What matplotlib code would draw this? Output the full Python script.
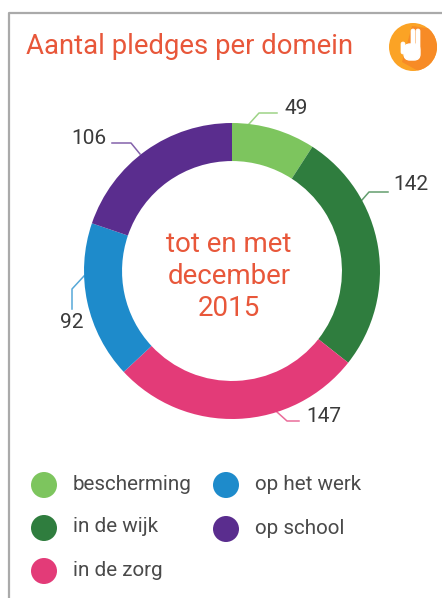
import matplotlib
matplotlib.use("Agg")
import matplotlib.pyplot as plt
from matplotlib.patches import Circle, Polygon, FancyBboxPatch

plt.rcParams['font.family'] = ['Roboto', 'DejaVu Sans']

categories = ['bescherming', 'in de wijk', 'in de zorg', 'op het werk', 'op school']
values = [49, 142, 147, 92, 106]
colors = ['#7dc55e', '#2f7d3e', '#e33b78', '#1e8bcb', '#5a2d8e']

W, H = 442, 598
cx, cy, r = 232, 271, 148

# label position and leader line for each slice, in pixels
label_pos = [(296, 109), (411, 185), (324, 416), (72, 322), (89, 139)]
leaders = [
    [(249, 124), (259, 113), (277, 113)],
    [(362, 200), (369, 192), (388, 192)],
    [(277, 412), (287, 421), (299, 421)],
    [(84, 276), (72, 289), (72, 309)],
    [(140, 154), (131, 143), (112, 143)],
]
legend_pos = [(44, 485), (44, 528), (44, 571), (226, 485), (226, 529)]

ORANGE = '#e8573a'
TEXT = '#4a4a4a'

fig = plt.figure(figsize=(W / 100, H / 100), dpi=100)

# overlay in pixel coordinates
ov = fig.add_axes([0, 0, 1, 1])
ov.set_xlim(0, W)
ov.set_ylim(H, 0)
ov.axis('off')

# card border
ov.plot([9, 9, W], [H, 13, 13], color='#aaaaaa', lw=1.6)

# donut
pie_ax = fig.add_axes([(cx - r) / W, (H - cy - r) / H, 2 * r / W, 2 * r / H])
pie_ax.pie(values, colors=colors, startangle=90, counterclock=False, radius=1,
           wedgeprops={'width': 0.257, 'linewidth': 0})
pie_ax.set_xlim(-1, 1)
pie_ax.set_ylim(-1, 1)

# leaders and value labels
for val, col, pos, line in zip(values, colors, label_pos, leaders):
    xs, ys = zip(*line)
    ov.plot(xs, ys, color=col, lw=1.1, alpha=0.75)
    ov.text(pos[0], pos[1], str(val), fontsize=15, color='#3a3a3a', ha='center', va='center')

# center text
for txt, y in zip(['tot en met', 'december', '2015'], [244, 276, 309]):
    ov.text(cx - 3, y, txt, fontsize=20, color=ORANGE, ha='center', va='center')

# title
ov.text(26, 47, 'Aantal pledges per domein', fontsize=19.8, color=ORANGE, ha='left', va='center')

# icon
ic = Circle((413, 47), 24, color='#fba325', lw=0, zorder=3)
ov.add_patch(ic)
shade = Polygon([(412, 26), (440, 30), (440, 72), (420, 72), (402, 62)],
                color='#f78b26', lw=0, zorder=4)
ov.add_patch(shade)
shade.set_clip_path(ic)
ov.add_patch(FancyBboxPatch((404, 44), 16, 16, boxstyle='round,pad=0,rounding_size=6',
                            fc='white', ec='white', lw=1, zorder=5))
ov.add_patch(FancyBboxPatch((411, 29), 4, 20, boxstyle='round,pad=0,rounding_size=2',
                            fc='white', ec='white', lw=0.5, zorder=5))
ov.add_patch(FancyBboxPatch((416, 29), 4, 20, boxstyle='round,pad=0,rounding_size=2',
                            fc='white', ec='white', lw=0.5, zorder=5))
ov.add_patch(FancyBboxPatch((401, 42), 4, 12, boxstyle='round,pad=0,rounding_size=2',
                            fc='white', ec='white', lw=0.5, zorder=5))

# legend
for name, col, (lx, ly) in zip(categories, colors, legend_pos):
    ov.add_patch(Circle((lx, ly), 13, color=col, lw=0))
    ov.text(lx + 29, ly - 1, name, fontsize=14.9, color=TEXT, ha='left', va='center')

fig.savefig('out.png', dpi=100)
